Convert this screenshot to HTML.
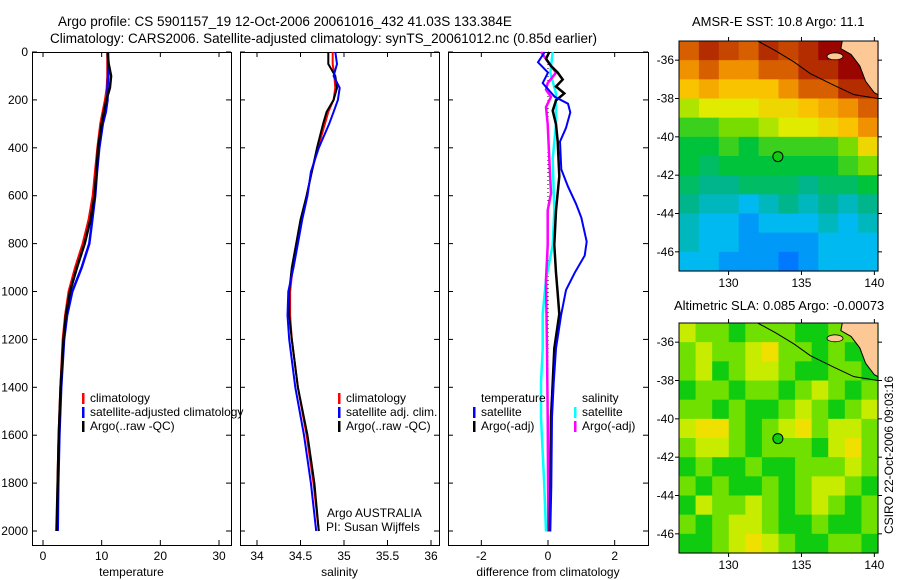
<!DOCTYPE html>
<html><head><meta charset="utf-8"><style>
html,body{margin:0;padding:0;background:#fff;}
svg{display:block;font-family:"Liberation Sans",sans-serif;font-size:12px;}
.tt{font-size:13.5px;}
</style></head><body>
<svg id="fig" width="900" height="580" viewBox="0 0 900 580">
<text class="tt" x="58" y="26">Argo profile: CS 5901157_19 12-Oct-2006 20061016_432 41.03S 133.384E</text>
<text class="tt" x="50" y="43">Climatology: CARS2006. Satellite-adjusted climatology: synTS_20061012.nc (0.85d earlier)</text>
<text x="692" y="26" style="font-size:13px">AMSR-E SST: 10.8 Argo: 11.1</text>
<text x="674" y="310" style="font-size:13px">Altimetric SLA: 0.085 Argo: -0.00073</text>
<text transform="translate(893,455) rotate(-90)" text-anchor="middle">CSIRO 22-Oct-2006 09:03:16</text>
<g id="g"></g>
</svg>
<script>
// ---- profile data ----
const depths=[0,50,100,150,200,250,300,400,500,600,700,800,900,1000,1100,1200,1400,1600,1800,2000];
const tempClim=[11.0,11.0,11.0,10.9,10.6,10.2,9.8,9.3,8.9,8.5,7.8,6.8,5.5,4.4,3.8,3.4,3.0,2.7,2.5,2.4];
const tempSat=[11.1,11.1,11.1,11.0,11.0,10.7,10.2,9.6,9.2,8.9,8.4,7.9,6.6,5.0,4.1,3.6,3.1,2.8,2.6,2.5];
const tempArgo=[11.0,11.2,11.6,11.4,10.8,10.4,10.0,9.4,9.1,8.8,8.1,7.1,5.8,4.6,3.9,3.5,3.0,2.7,2.5,2.3];
const salClim=[34.87,34.87,34.89,34.90,34.88,34.82,34.78,34.70,34.63,34.57,34.51,34.46,34.41,34.38,34.38,34.40,34.47,34.57,34.65,34.71];
const salSat=[34.90,34.92,34.88,34.95,34.93,34.88,34.83,34.71,34.62,34.58,34.52,34.47,34.42,34.36,34.35,34.37,34.44,34.54,34.62,34.68];
const salArgo=[34.82,34.82,34.90,34.92,34.88,34.80,34.76,34.69,34.63,34.57,34.50,34.45,34.40,34.37,34.37,34.40,34.47,34.58,34.66,34.71];
// ---- difference data ----
const dTempSatDepth=[0,43,86,130,187,216,252,317,374,490,562,634,691,792,850,922,994,1094,1238,1382,1526,1814,2002];
const dTempSat=[-0.1,-0.3,0,-0.16,0.2,0.6,0.67,0.54,0.36,0.4,0.6,0.84,1.0,1.16,1.1,0.8,0.54,0.4,0.24,0.17,0.12,0.1,0.07];
const dArgoDepth=[0,29,58,86,115,144,173,202,245,302,374,518,662,806,922,1008,1094,1238,1382,1526,1814,2002];
const dTempArgo=[0.04,-0.06,0.09,0.29,0.44,0.24,0.49,0.24,0.14,0.24,0.29,0.34,0.24,0.19,0.24,0.29,0.34,0.19,0.14,0.09,0.07,0.05];
const dSalSatDepth=[0,86,173,302,446,662,806,950,1094,1238,1382,1526,1670,1814,2002];
const dSalSat=[0.14,0.07,0.24,0.24,0.14,0.19,0.14,-0.06,-0.16,-0.16,-0.21,-0.21,-0.16,-0.11,-0.06];
const dSalArgoDepth=[0,58,86,130,158,187,230,302,446,590,662,806,950,1238,1526,2002];
const dSalArgo=[-0.21,0.09,0.24,-0.01,-0.06,0.09,-0.06,-0.01,0.04,0.09,-0.01,-0.01,-0.06,-0.03,-0.01,0.01];
// ---- map data ----
const sstRows=[
[15,16,15.5,15,16,15.5,16,17,17,17],
[14,15,14,14,15,15,16,16,17,17],
[13,13.5,13,13,13,14,15,15,16,16],
[11.5,12,12,12,12.5,12.5,13,13.5,14,15],
[10.5,10.5,11,11,11.5,12,12,12.5,13,14],
[10,10,10.5,10,10.5,10.5,10.5,10.5,11,12.5],
[10,9.5,10,10,10,10,10,10,10.5,11],
[9.5,9,9,9.5,9.5,9.5,9,9.5,9.5,10],
[9,8.5,8.5,8,8.5,9,8.5,9,8.5,9],
[8.5,8,8,7.5,8,8,8,8.5,8,8.5],
[8.5,8,8,7.5,7.5,7.5,7.5,8,8,8],
[8,8,7.5,7.5,7.5,7,7.5,8,8,8]];
const slaRows=[
[2,1,1,0,1,1,1,0,0,1,1,0],
[1,2,1,1,2,3,1,1,0,1,0,0],
[1,2,0,1,2,2,1,0,0,1,1,0],
[0,1,1,0,1,1,0,1,2,1,0,1],
[1,1,0,1,0,0,1,2,1,0,1,2],
[2,3,3,1,0,1,2,3,1,2,2,1],
[1,2,2,1,0,1,1,1,0,2,3,1],
[0,1,0,0,1,0,0,1,1,1,2,1],
[1,0,1,0,0,1,0,1,2,2,1,0],
[0,2,1,1,2,1,0,1,2,1,0,1],
[1,0,1,2,2,1,0,0,1,0,0,1],
[0,0,1,2,3,2,1,0,0,1,1,0]];
const depthTicks=[0,200,400,600,800,1000,1200,1400,1600,1800,2000];
const tempTicks=[0,10,20,30];
const salTicks=[34,34.5,35,35.5,36];
const diffTicks=[-2,0,2];
const latTicks=[-36,-38,-40,-42,-44,-46];
const lonTicks=[130,135,140];

const NS='http://www.w3.org/2000/svg';
const G=document.getElementById('g');
function mk(tag,attrs,parent){const e=document.createElementNS(NS,tag);for(const k in attrs)e.setAttribute(k,attrs[k]);(parent||G).appendChild(e);return e;}
const yTop=52,yBot=545;
function yD(d){return yTop+d*0.2395;}
function linF(a,b,pa,pb){return v=>pa+(v-a)*(pb-pa)/(b-a);}
const xT=linF(0,30,43,219), xS=linF(34,36,257,431), xDf=linF(-3,3,448,648);

function panel(name,x0,x1,xf,ticks,label,labelDepth){
  const bx=mk('rect',{x:x0+.5,y:yTop+.5,width:x1-x0,height:yBot-yTop,fill:'none',stroke:'#000'});
  
  
  depthTicks.forEach(d=>{const y=yD(d);
    mk('line',{x1:x0,x2:x0+5,y1:y,y2:y,stroke:'#000'});mk('line',{x1:x1-5,x2:x1,y1:y,y2:y,stroke:'#000'});
    if(labelDepth){const t=mk('text',{x:28,y:y+4,'text-anchor':'end'});t.textContent=d;
      
      }
  });
  ticks.forEach(v=>{const x=xf(v);
    mk('line',{x1:x,x2:x,y1:yBot,y2:yBot-5,stroke:'#000'});mk('line',{x1:x,x2:x,y1:yTop,y2:yTop+5,stroke:'#000'});
    const t=mk('text',{x:x,y:560,'text-anchor':'middle'});t.textContent=v;
    
    
  });
  const l=mk('text',{x:(x0+x1)/2,y:576,'text-anchor':'middle'});l.textContent=label;
  
  
}
function line(vals,ds,xf,color,w,name){
  const pts=vals.map((v,i)=>xf(v).toFixed(1)+','+yD(ds[i]).toFixed(1)).join(' ');
  const p=mk('polyline',{points:pts,fill:'none',stroke:color,'stroke-width':w});
  
  
}
function legend(x,items){
  items.forEach(([c,txt,y])=>{
    if(c){const m=mk('rect',{x:x,y:y-9,width:2.5,height:11,fill:c});
      
      }
    const t=mk('text',{x:x+8,y:y});t.textContent=txt;
    
    
  });
}
panel('temperature',32,231,xT,tempTicks,'temperature',true);
panel('salinity',240,439,xS,salTicks,'salinity',false);
panel('difference',448,648,xDf,diffTicks,'difference from climatology',false);

line(tempClim,depths,xT,'#f00',2.5,'temp-climatology-line');
line(tempSat,depths,xT,'#00f',2.5,'temp-satellite-line');
line(tempArgo,depths,xT,'#000',2.5,'temp-argo-line');
line(salClim,depths,xS,'#f00',2,'sal-climatology-line');
line(salArgo,depths,xS,'#000',2,'sal-argo-line');
line(salSat,depths,xS,'#00f',2,'sal-satellite-line');
const z=mk('line',{x1:xDf(0),x2:xDf(0),y1:yTop,y2:yD(2000),stroke:'#000','stroke-dasharray':'1 3'});


line(dSalSat,dSalSatDepth,xDf,'#0ff',2.5,'diff-sal-satellite-line');
line(dSalArgo,dSalArgoDepth,xDf,'#f0f',2.5,'diff-sal-argo-line');
line(dTempArgo,dArgoDepth,xDf,'#000',2.5,'diff-temp-argo-line');
line(dTempSat,dTempSatDepth,xDf,'#00f',2,'diff-temp-satellite-line');

legend(82,[['#f00','climatology',402],['#00f','satellite-adjusted climatology',416],['#000','Argo(..raw -QC)',430]]);
legend(338,[['#f00','climatology',402],['#00f','satellite adj. clim.',416],['#000','Argo(..raw -QC)',430]]);
legend(473,[[null,'temperature',402],['#00f','satellite',416],['#000','Argo(-adj)',430]]);
legend(574,[[null,'salinity',402],['#0ff','satellite',416],['#f0f','Argo(-adj)',430]]);
{const a=mk('text',{x:327,y:517});a.textContent='Argo AUSTRALIA';


const b=mk('text',{x:326,y:531});b.textContent='PI: Susan Wijffels';

}

// ---- maps ----
const sstStops=[[7,[0,120,255]],[8,[0,185,240]],[9,[0,180,140]],[10,[0,195,60]],[11,[120,220,0]],[12,[225,235,0]],[13,[250,195,0]],[14,[240,145,0]],[15,[215,95,0]],[16,[180,45,0]],[17,[155,5,0]]];
function sstColor(v){for(let i=0;i<sstStops.length-1;i++){const [a,ca]=sstStops[i],[b,cb]=sstStops[i+1];if(v<=b){const t=Math.max(0,(v-a)/(b-a));return 'rgb('+ca.map((c,k)=>Math.round(c+(cb[k]-c)*t)).join(',')+')';}}return 'rgb(155,5,0)';}
const slaColors=['#10cc10','#70e000','#c8ec00','#f0e000'];
function map(name,y0,rows,colorf){
  const x0=679,x1=878,y1=y0+230;
  const lon=linF(126.6,140.25,x0,x1), lat=linF(-35,-47,y0,y1);
  const nr=rows.length,nc=rows[0].length,cw=(x1-x0)/nc,ch=(y1-y0)/nr;
  rows.forEach((r,i)=>r.forEach((v,j)=>{
    const c=mk('rect',{x:x0+j*cw,y:y0+i*ch,width:cw+0.6,height:ch+0.6,fill:colorf(v)});
    
    
  }));
  const land=mk('path',{d:`M${lon(137.8)},${y0} L${lon(137.7)},${lat(-35.4)} L${lon(138.4)},${lat(-35.7)} L${lon(139.0)},${lat(-36.3)} L${lon(139.4)},${lat(-37.1)} L${lon(140.0)},${lat(-37.7)} L${x1},${lat(-37.8)} L${x1},${y0} Z`,fill:'#fcc896',stroke:'#000','stroke-width':1});
  
  
  const isl=mk('ellipse',{cx:lon(137.3),cy:lat(-35.8),rx:8,ry:3.5,fill:'#fcc896',stroke:'#000','stroke-width':.8});
  
  
  const shelf=mk('polyline',{points:`${lon(132.0)},${y0} ${lon(133.2)},${lat(-35.5)} ${lon(134.5)},${lat(-36.1)} ${lon(135.6)},${lat(-36.7)} ${lon(137.2)},${lat(-37.3)} ${lon(138.6)},${lat(-37.8)} ${x1},${lat(-38.0)}`,fill:'none',stroke:'#000','stroke-width':1});
  
  
  const b=mk('rect',{x:x0,y:y0,width:x1-x0,height:y1-y0,fill:'none',stroke:'#000'});
  
  
  latTicks.forEach(v=>{const y=lat(v);mk('line',{x1:x0-4,x2:x0,y1:y,y2:y,stroke:'#000'});mk('line',{x1:x1,x2:x1+4,y1:y,y2:y,stroke:'#000'});
    const t=mk('text',{x:x0-5,y:y+4,'text-anchor':'end'});t.textContent=v;
    
    });
  lonTicks.forEach(v=>{const x=lon(v);mk('line',{x1:x,x2:x,y1:y1,y2:y1+4,stroke:'#000'});mk('line',{x1:x,x2:x,y1:y0-4,y2:y0,stroke:'#000'});
    const t=mk('text',{x:x,y:y1+16,'text-anchor':'middle'});t.textContent=v;
    
    });
  const m=mk('circle',{cx:lon(133.384),cy:lat(-41.03),r:5,fill:'#10cc10',stroke:'#000'});
  
  
}
map('sst-map',41,sstRows,sstColor);
map('sla-map',323,slaRows,v=>slaColors[v]);
</script>
</body></html>
